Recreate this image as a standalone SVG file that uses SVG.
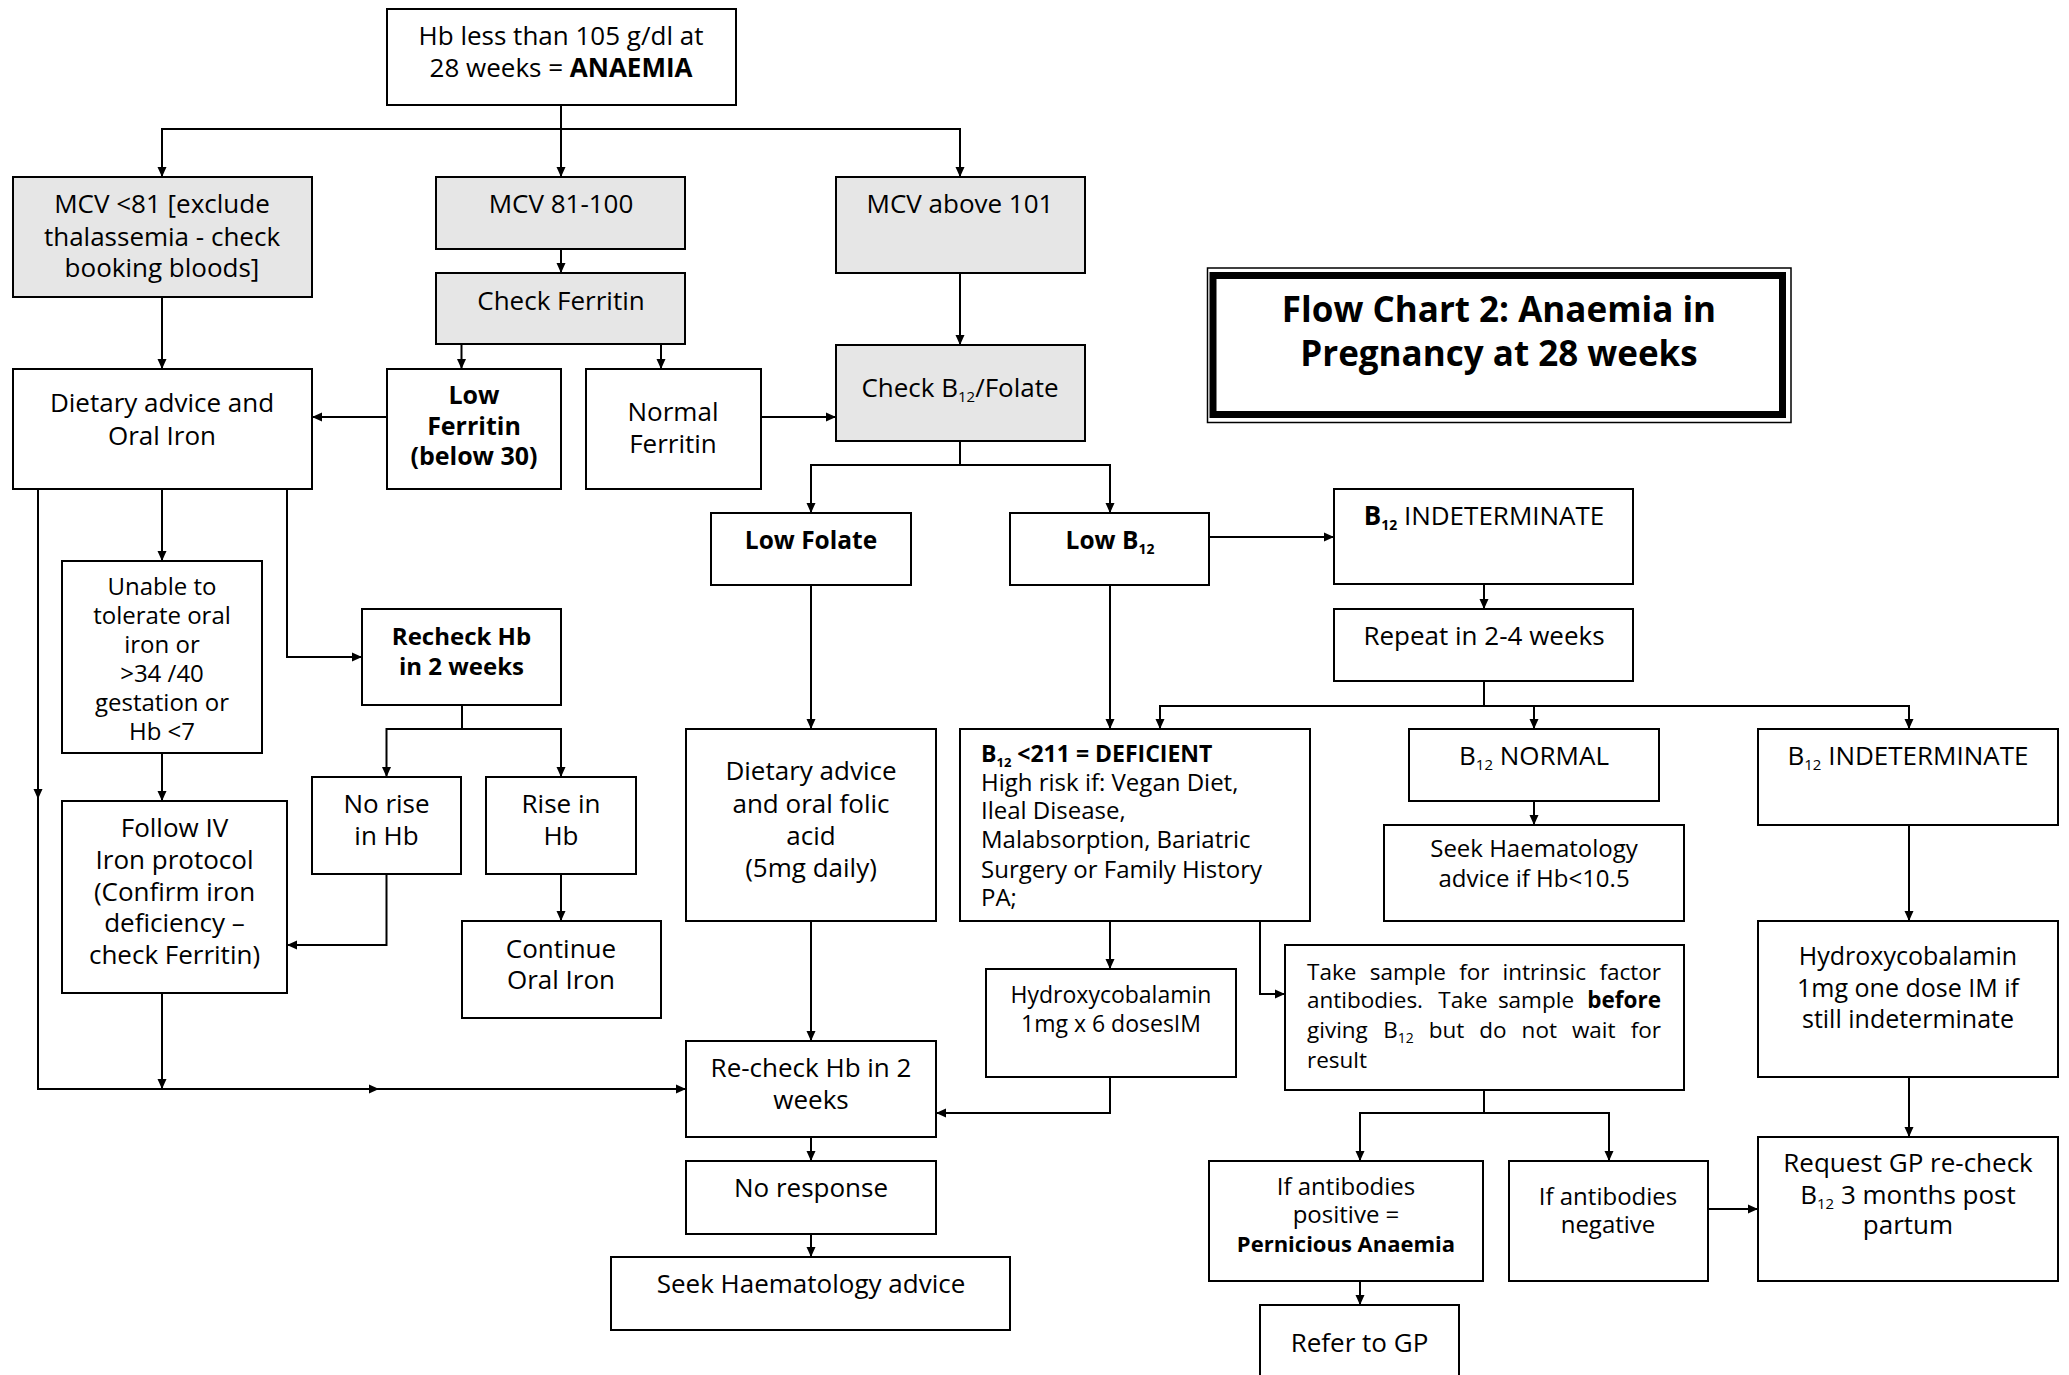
<svg xmlns="http://www.w3.org/2000/svg" width="2069" height="1375" viewBox="0 0 2069 1375">
<style>
.box{fill:#fff;stroke:#000;stroke-width:2}
.grey{fill:#e6e6e6}
text{font-family:"Open Sans","Noto Sans",sans-serif;font-size:26px;fill:#000;text-anchor:middle}
.s{font-size:24px}
.xs{font-size:22.5px}
.b{font-weight:bold}
.l{text-anchor:start}
.e{text-anchor:end}
.c{fill:none;stroke:#000;stroke-width:2;marker-end:url(#ah)}
.n{fill:none;stroke:#000;stroke-width:2}
</style>
<defs>
<marker id="ah" markerUnits="userSpaceOnUse" markerWidth="11" markerHeight="11" refX="10" refY="5" orient="auto">
<path d="M0,0.5 L10,5 L0,9.5 z" fill="#000"/>
</marker>
</defs>
<rect width="2069" height="1375" fill="#fff"/>

<g id="connectors">
<path class="c" d="M561,105 V177"/>
<path class="c" d="M561,129 H162 V177"/>
<path class="c" d="M561,129 H960 V177"/>
<path class="c" d="M561,249 V273"/>
<path class="c" d="M162,297 V369"/>
<path class="c" d="M960,273 V345"/>
<path class="c" d="M461.5,344 V369"/>
<path class="c" d="M661,344 V369"/>
<path class="c" d="M387,417 H312" stroke-width="2.5"/>
<path class="c" d="M761,417 H836" stroke-width="2.5"/>
<path class="c" d="M960,441 V465 H811 V513"/>
<path class="c" d="M960,465 H1110 V513"/>
<path class="c" d="M1209,537 H1334" stroke-width="2.5"/>
<path class="c" d="M1484,584 V609"/>
<path class="c" d="M1484,681 V706 H1160 V729"/>
<path class="c" d="M1484,706 H1909 V729"/>
<path class="c" d="M1534,706 V729"/>
<path class="c" d="M811,585 V729"/>
<path class="c" d="M1110,585 V729"/>
<path class="c" d="M811,921 V1041"/>
<path class="c" d="M1110,921 V969"/>
<path class="c" d="M1260,921 V994 H1285"/>
<path class="c" d="M1110,1077 V1113 H936" stroke-width="2.5"/>
<path class="c" d="M811,1137 V1161"/>
<path class="c" d="M811,1234 V1257"/>
<path class="c" d="M38,489 V799"/>
<path class="c" d="M38,799 V1089 H379" stroke-width="2.5"/>
<path class="c" d="M379,1089 H686" stroke-width="2.5"/>
<path class="c" d="M162,489 V561"/>
<path class="c" d="M162,753 V801"/>
<path class="c" d="M287,489 V657 H362" stroke-width="2.5"/>
<path class="c" d="M462,705 V729 H386.5 V777"/>
<path class="c" d="M462,729 H561 V777"/>
<path class="c" d="M561,874 V921"/>
<path class="c" d="M386.5,874 V945 H287" stroke-width="2.5"/>
<path class="c" d="M162,993 V1089"/>
<path class="c" d="M1534,801 V825"/>
<path class="c" d="M1909,825 V921"/>
<path class="c" d="M1909,1077 V1137"/>
<path class="c" d="M1484,1090 V1113 H1360 V1161"/>
<path class="c" d="M1484,1113 H1609 V1161"/>
<path class="c" d="M1708,1209 H1758" stroke-width="2.5"/>
<path class="c" d="M1360,1281 V1305"/>
</g>

<g id="n_top"><rect class="box" x="387" y="9" width="349" height="96"/>
<text x="561" y="45">Hb less than 105 g/dl at</text>
<text x="561" y="77">28 weeks = <tspan class="b">ANAEMIA</tspan></text></g>

<g id="n_mcv81"><rect class="box grey" x="13" y="177" width="299" height="120"/>
<text x="162" y="213">MCV &lt;81 [exclude</text>
<text x="162" y="246">thalassemia - check</text>
<text x="162" y="277">booking bloods]</text></g>

<g id="n_mcv81_100"><rect class="box grey" x="436" y="177" width="249" height="72"/>
<text x="561" y="213">MCV 81-100</text></g>

<g id="n_mcv101"><rect class="box grey" x="836" y="177" width="249" height="96"/>
<text x="960" y="213">MCV above 101</text></g>

<g id="n_checkferritin"><rect class="box grey" x="436" y="273" width="249" height="71"/>
<text x="561" y="310">Check Ferritin</text></g>

<g id="n_dietary"><rect class="box" x="13" y="369" width="299" height="120"/>
<text x="162" y="412">Dietary advice and</text>
<text x="162" y="445">Oral Iron</text></g>

<g id="n_lowferritin"><rect class="box" x="387" y="369" width="174" height="120"/>
<text class="b" x="474" y="404" style="font-size:25px">Low</text>
<text class="b" x="474" y="435" style="font-size:25px">Ferritin</text>
<text class="b" x="474" y="465" style="font-size:25px">(below 30)</text></g>

<g id="n_normalferritin"><rect class="box" x="586" y="369" width="175" height="120"/>
<text x="673" y="421">Normal</text>
<text x="673" y="453">Ferritin</text></g>

<g id="n_checkb12"><rect class="box grey" x="836" y="345" width="249" height="96"/>
<text x="960" y="397">Check B<tspan font-size="15" dy="5">12</tspan><tspan dy="-5">/Folate</tspan></text></g>

<g id="n_title">
<rect x="1207.5" y="268" width="583.5" height="154.5" fill="#fff" stroke="#000" stroke-width="1.5"/>
<rect x="1213" y="275.5" width="569.5" height="139" fill="none" stroke="#000" stroke-width="7"/>
<text class="b" x="1499" y="322" style="font-size:35px">Flow Chart 2: Anaemia in</text>
<text class="b" x="1499" y="366" style="font-size:35px">Pregnancy at 28 weeks</text></g>

<g id="n_lowfolate"><rect class="box" x="711" y="513" width="200" height="72"/>
<text class="b" x="811" y="549" style="font-size:24.5px">Low Folate</text></g>

<g id="n_lowb12"><rect class="box" x="1010" y="513" width="199" height="72"/>
<text class="b" x="1110" y="549" style="font-size:24.5px">Low B<tspan font-size="14" dy="5">12</tspan></text></g>

<g id="n_b12indet1"><rect class="box" x="1334" y="489" width="299" height="95"/>
<text x="1484" y="525"><tspan class="b">B</tspan><tspan class="b" font-size="14" dy="5">12</tspan><tspan dy="-5"> INDETERMINATE</tspan></text></g>

<g id="n_repeat"><rect class="box" x="1334" y="609" width="299" height="72"/>
<text x="1484" y="645">Repeat in 2-4 weeks</text></g>

<g id="n_unable"><rect class="box" x="62" y="561" width="200" height="192"/>
<text class="s" x="162" y="595">Unable to</text>
<text class="s" x="162" y="624">tolerate oral</text>
<text class="s" x="162" y="653">iron or</text>
<text class="s" x="162" y="682">&gt;34 /40</text>
<text class="s" x="162" y="711">gestation or</text>
<text class="s" x="162" y="740">Hb &lt;7</text></g>

<g id="n_recheck"><rect class="box" x="362" y="609" width="199" height="96"/>
<text class="b" x="461.5" y="645" style="font-size:24px">Recheck Hb</text>
<text class="b" x="461.5" y="675" style="font-size:24px">in 2 weeks</text></g>

<g id="n_norise"><rect class="box" x="312" y="777" width="149" height="97"/>
<text x="386.5" y="813">No rise</text>
<text x="386.5" y="845">in Hb</text></g>

<g id="n_rise"><rect class="box" x="486" y="777" width="150" height="97"/>
<text x="561" y="813">Rise in</text>
<text x="561" y="845">Hb</text></g>

<g id="n_followiv"><rect class="box" x="62" y="801" width="225" height="192"/>
<text x="174.5" y="837">Follow IV</text>
<text x="174.5" y="869">Iron protocol</text>
<text x="174.5" y="901">(Confirm iron</text>
<text x="174.5" y="932">deficiency –</text>
<text x="174.5" y="964">check Ferritin)</text></g>

<g id="n_continue"><rect class="box" x="462" y="921" width="199" height="97"/>
<text x="561" y="958">Continue</text>
<text x="561" y="989">Oral Iron</text></g>

<g id="n_dietfolic"><rect class="box" x="686" y="729" width="250" height="192"/>
<text x="811" y="780">Dietary advice</text>
<text x="811" y="813">and oral folic</text>
<text x="811" y="845">acid</text>
<text x="811" y="877">(5mg daily)</text></g>

<g id="n_b12def"><rect class="box" x="960" y="729" width="350" height="192"/>
<text class="l b" x="981" y="762" style="font-size:23px">B<tspan font-size="13" dy="5">12</tspan><tspan dy="-5"> &lt;211 = DEFICIENT</tspan></text>
<text class="s l" x="981" y="791">High risk if: Vegan Diet,</text>
<text class="s l" x="981" y="819">Ileal Disease,</text>
<text class="s l" x="981" y="848">Malabsorption, Bariatric</text>
<text class="s l" x="981" y="878">Surgery or Family History</text>
<text class="s l" x="981" y="906">PA;</text></g>

<g id="n_hydroxy6"><rect class="box" x="986" y="969" width="250" height="108"/>
<text x="1111" y="1003" style="font-size:23px">Hydroxycobalamin</text>
<text x="1111" y="1032" style="font-size:23px">1mg x 6 dosesIM</text></g>

<g id="n_takesample"><rect class="box" x="1285" y="945" width="399" height="145"/>
<text class="xs l" y="980"><tspan x="1307">Take</tspan><tspan x="1369.7">sample</tspan><tspan x="1459.2">for</tspan><tspan x="1502.6">intrinsic</tspan></text>
<text class="xs e" x="1661" y="980">factor</text>
<text class="xs l" y="1008"><tspan x="1307">antibodies.</tspan><tspan x="1438.3">Take</tspan><tspan x="1497.9">sample</tspan></text>
<text class="xs e b" x="1661" y="1008">before</text>
<text class="xs l" y="1038"><tspan x="1307">giving</tspan><tspan x="1383.3">B</tspan><tspan font-size="14" dy="5">12</tspan><tspan x="1428.8" dy="-5">but</tspan><tspan x="1479.3">do</tspan><tspan x="1521.6">not</tspan><tspan x="1571.9">wait</tspan></text>
<text class="xs e" x="1661" y="1038">for</text>
<text class="xs l" x="1307" y="1068">result</text></g>

<g id="n_b12normal"><rect class="box" x="1409" y="729" width="250" height="72"/>
<text x="1534" y="765">B<tspan font-size="15" dy="5">12</tspan><tspan dy="-5"> NORMAL</tspan></text></g>

<g id="n_seekif"><rect class="box" x="1384" y="825" width="300" height="96"/>
<text class="s" x="1534" y="857">Seek Haematology</text>
<text class="s" x="1534" y="887">advice if Hb&lt;10.5</text></g>

<g id="n_b12indet2"><rect class="box" x="1758" y="729" width="300" height="96"/>
<text x="1908" y="765">B<tspan font-size="15" dy="5">12</tspan><tspan dy="-5"> INDETERMINATE</tspan></text></g>

<g id="n_hydroxy1"><rect class="box" x="1758" y="921" width="300" height="156"/>
<text x="1908" y="965" style="font-size:25px">Hydroxycobalamin</text>
<text x="1908" y="997" style="font-size:25px">1mg one dose IM if</text>
<text x="1908" y="1028" style="font-size:25px">still indeterminate</text></g>

<g id="n_recheck2"><rect class="box" x="686" y="1041" width="250" height="96"/>
<text x="811" y="1077">Re-check Hb in 2</text>
<text x="811" y="1109">weeks</text></g>

<g id="n_noresponse"><rect class="box" x="686" y="1161" width="250" height="73"/>
<text x="811" y="1197">No response</text></g>

<g id="n_seek"><rect class="box" x="611" y="1257" width="399" height="73"/>
<text x="811" y="1293">Seek Haematology advice</text></g>

<g id="n_positive"><rect class="box" x="1209" y="1161" width="274" height="120"/>
<text class="s" x="1346" y="1195">If antibodies</text>
<text class="s" x="1346" y="1223">positive =</text>
<text class="b" x="1346" y="1252" style="font-size:22px">Pernicious Anaemia</text></g>

<g id="n_negative"><rect class="box" x="1509" y="1161" width="199" height="120"/>
<text class="s" x="1608" y="1205">If antibodies</text>
<text class="s" x="1608" y="1233">negative</text></g>

<g id="n_request"><rect class="box" x="1758" y="1137" width="300" height="144"/>
<text x="1908" y="1172">Request GP re-check</text>
<text x="1908" y="1204">B<tspan font-size="15" dy="5">12</tspan><tspan dy="-5"> 3 months post</tspan></text>
<text x="1908" y="1234">partum</text></g>

<g id="n_refer"><rect class="box" x="1260" y="1305" width="199" height="100"/>
<text x="1359.5" y="1352">Refer to GP</text></g>
</svg>
